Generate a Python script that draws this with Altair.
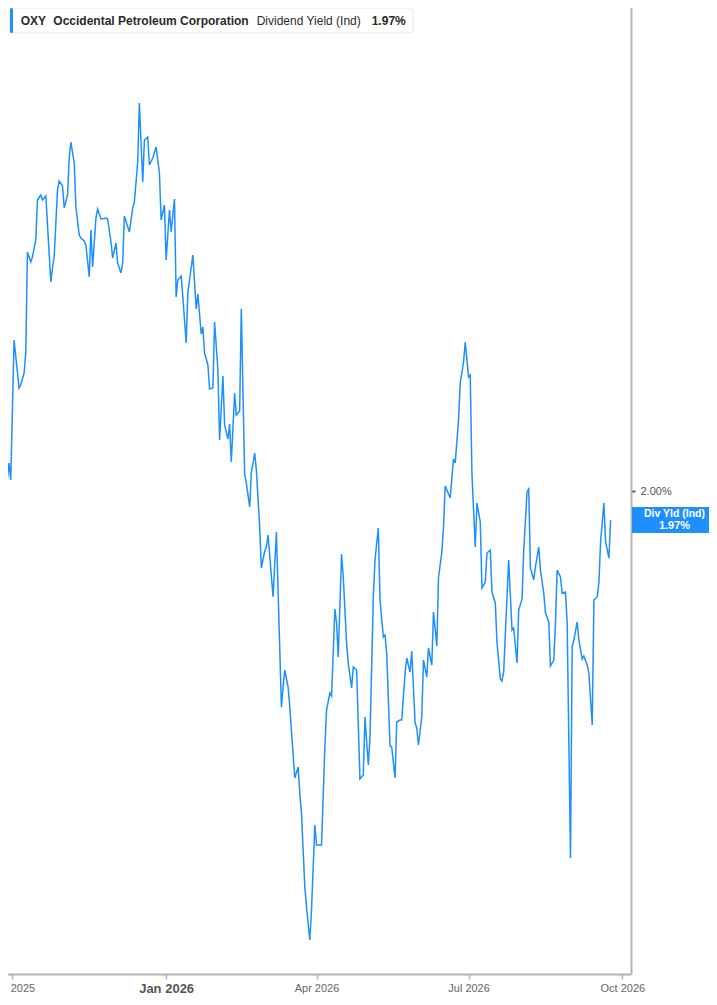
import altair as alt
import pandas as pd

BLUE = "#1e8fff"
FONT = "Liberation Sans"

# ---- data (dividend yield, %) ----
dates_q4_2025 = [
    "2025-09-24", "2025-09-27", "2025-09-29", "2025-09-30", "2025-10-02", "2025-10-05", "2025-10-06", "2025-10-08",
    "2025-10-09", "2025-10-10", "2025-10-12", "2025-10-13", "2025-10-15", "2025-10-16", "2025-10-18", "2025-10-19",
    "2025-10-21", "2025-10-24", "2025-10-25", "2025-10-26", "2025-10-28", "2025-10-29", "2025-10-31", "2025-11-01",
    "2025-11-03", "2025-11-04", "2025-11-05", "2025-11-07", "2025-11-08", "2025-11-10", "2025-11-11", "2025-11-13",
    "2025-11-14", "2025-11-16", "2025-11-17", "2025-11-18", "2025-11-20", "2025-11-21", "2025-11-23", "2025-11-26",
    "2025-11-27", "2025-11-29", "2025-11-30", "2025-12-02", "2025-12-03", "2025-12-05", "2025-12-06", "2025-12-07",
    "2025-12-10", "2025-12-12", "2025-12-13", "2025-12-15", "2025-12-16", "2025-12-18", "2025-12-19", "2025-12-21",
    "2025-12-22", "2025-12-24", "2025-12-26", "2025-12-28", "2025-12-29", "2025-12-31",
]
yield_q4_2025 = [
    2.041, 1.996, 2.028, 2.011, 2.151, 2.103, 2.106, 2.118, 2.138, 2.239,
    2.229, 2.234, 2.251, 2.291, 2.296, 2.291, 2.295, 2.209, 2.223, 2.234,
    2.301, 2.310, 2.305, 2.283, 2.296, 2.333, 2.349, 2.328, 2.284, 2.256,
    2.253, 2.250, 2.246, 2.214, 2.261, 2.224, 2.273, 2.282, 2.272, 2.273,
    2.272, 2.249, 2.233, 2.248, 2.228, 2.218, 2.228, 2.275, 2.259, 2.283,
    2.289, 2.329, 2.388, 2.309, 2.351, 2.354, 2.326, 2.333, 2.344, 2.318,
    2.271, 2.286,
]

dates_q1_2026 = [
    "2026-01-01", "2026-01-03", "2026-01-04", "2026-01-06", "2026-01-07", "2026-01-08", "2026-01-10", "2026-01-11",
    "2026-01-13", "2026-01-14", "2026-01-17", "2026-01-19", "2026-01-20", "2026-01-22", "2026-01-23", "2026-01-24",
    "2026-01-26", "2026-01-27", "2026-01-29", "2026-01-30", "2026-02-01", "2026-02-02", "2026-02-04", "2026-02-05",
    "2026-02-07", "2026-02-08", "2026-02-09", "2026-02-11", "2026-02-12", "2026-02-14", "2026-02-15", "2026-02-17",
    "2026-02-18", "2026-02-20", "2026-02-21", "2026-02-23", "2026-02-24", "2026-02-26", "2026-02-27", "2026-03-01",
    "2026-03-02", "2026-03-03", "2026-03-06", "2026-03-08", "2026-03-11", "2026-03-12", "2026-03-13", "2026-03-15",
    "2026-03-16", "2026-03-19", "2026-03-21", "2026-03-22", "2026-03-23", "2026-03-25", "2026-03-26", "2026-03-28",
    "2026-03-29", "2026-03-31",
]
yield_q1_2026 = [
    2.231, 2.281, 2.259, 2.292, 2.194, 2.211, 2.215, 2.194, 2.148, 2.198,
    2.236, 2.182, 2.197, 2.157, 2.164, 2.138, 2.126, 2.102, 2.103, 2.169,
    2.121, 2.051, 2.115, 2.066, 2.052, 2.067, 2.029, 2.098, 2.076, 2.080,
    2.182, 2.016, 2.008, 1.984, 2.018, 2.038, 2.021, 1.964, 1.923, 1.940,
    1.944, 1.956, 1.894, 1.959, 1.784, 1.804, 1.821, 1.804, 1.784, 1.713,
    1.724, 1.698, 1.678, 1.604, 1.584, 1.551, 1.581, 1.666,
]

dates_q2_2026 = [
    "2026-04-01", "2026-04-04", "2026-04-06", "2026-04-07", "2026-04-09", "2026-04-10", "2026-04-12", "2026-04-13",
    "2026-04-14", "2026-04-16", "2026-04-17", "2026-04-19", "2026-04-20", "2026-04-22", "2026-04-23", "2026-04-25",
    "2026-04-27", "2026-04-29", "2026-04-30", "2026-05-02", "2026-05-03", "2026-05-05", "2026-05-06", "2026-05-08",
    "2026-05-09", "2026-05-11", "2026-05-12", "2026-05-13", "2026-05-15", "2026-05-16", "2026-05-18", "2026-05-19",
    "2026-05-21", "2026-05-22", "2026-05-24", "2026-05-25", "2026-05-27", "2026-05-28", "2026-05-30", "2026-05-31",
    "2026-06-01", "2026-06-03", "2026-06-04", "2026-06-06", "2026-06-07", "2026-06-09", "2026-06-10", "2026-06-12",
    "2026-06-13", "2026-06-15", "2026-06-16", "2026-06-17", "2026-06-20", "2026-06-22", "2026-06-23", "2026-06-25",
    "2026-06-26", "2026-06-28", "2026-06-29",
]
yield_q2_2026 = [
    1.646, 1.646, 1.744, 1.781, 1.798, 1.795, 1.882, 1.868, 1.834, 1.937,
    1.914, 1.848, 1.828, 1.803, 1.824, 1.821, 1.712, 1.716, 1.774, 1.726,
    1.754, 1.894, 1.931, 1.963, 1.891, 1.854, 1.856, 1.838, 1.745, 1.744,
    1.713, 1.769, 1.771, 1.771, 1.818, 1.833, 1.819, 1.840, 1.768, 1.763,
    1.746, 1.774, 1.831, 1.814, 1.843, 1.826, 1.879, 1.845, 1.913, 1.939,
    1.964, 2.005, 1.993, 2.032, 2.028, 2.071, 2.108, 2.129, 2.149,
]

dates_q3_2026 = [
    "2026-07-01", "2026-07-02", "2026-07-03", "2026-07-05", "2026-07-06", "2026-07-08", "2026-07-09", "2026-07-11",
    "2026-07-12", "2026-07-14", "2026-07-15", "2026-07-17", "2026-07-18", "2026-07-20", "2026-07-21", "2026-07-22",
    "2026-07-24", "2026-07-25", "2026-07-27", "2026-07-28", "2026-07-30", "2026-07-31", "2026-08-02", "2026-08-03",
    "2026-08-05", "2026-08-06", "2026-08-07", "2026-08-09", "2026-08-10", "2026-08-12", "2026-08-13", "2026-08-15",
    "2026-08-16", "2026-08-18", "2026-08-19", "2026-08-21", "2026-08-22", "2026-08-23", "2026-08-25", "2026-08-26",
    "2026-08-28", "2026-08-29", "2026-08-31", "2026-09-01", "2026-09-02", "2026-09-04", "2026-09-05", "2026-09-07",
    "2026-09-08", "2026-09-10", "2026-09-11", "2026-09-13", "2026-09-14", "2026-09-16", "2026-09-17", "2026-09-18",
    "2026-09-20", "2026-09-21", "2026-09-23", "2026-09-24",
]
yield_q3_2026 = [
    2.114, 2.116, 2.018, 1.944, 1.988, 1.969, 1.903, 1.909, 1.938, 1.941,
    1.899, 1.888, 1.849, 1.812, 1.810, 1.819, 1.894, 1.931, 1.861, 1.863,
    1.828, 1.881, 1.892, 1.941, 1.999, 2.002, 1.923, 1.911, 1.924, 1.944,
    1.921, 1.898, 1.878, 1.869, 1.825, 1.831, 1.868, 1.921, 1.914, 1.898,
    1.899, 1.868, 1.633, 1.844, 1.851, 1.869, 1.851, 1.832, 1.835, 1.826,
    1.818, 1.766, 1.891, 1.894, 1.908, 1.949, 1.988, 1.949, 1.933, 1.971,
]

tick_dates = [(2025, 10, 1), (2026, 1, 1), (2026, 4, 1), (2026, 7, 1), (2026, 10, 1)]
ytick_values = [2.0]
ticker = "OXY"
company = "Occidental Petroleum Corporation"
metric = "Dividend Yield (Ind)"
metric_short = "Div Yld (Ind)"

dates = dates_q4_2025 + dates_q1_2026 + dates_q2_2026 + dates_q3_2026
values = yield_q4_2025 + yield_q1_2026 + yield_q2_2026 + yield_q3_2026
df = pd.DataFrame({"date": dates, "value": values})
last = df.iloc[[-1]].copy()
last["label"] = last["value"].map(lambda v: f"{v:.2f}%")
one = pd.DataFrame({"k": [0]})

x_scale = alt.Scale(
    type="utc",
    domain=[alt.DateTime(year=2025, month=9, date=23, hours=14, utc=True),
            alt.DateTime(year=2026, month=10, date=6, hours=5, utc=True)],
)
y_scale = alt.Scale(domain=[1.517, 2.491], nice=False, zero=False)

x_enc = alt.X(
    "date:T", scale=x_scale, title=None,
    axis=alt.Axis(
        values=[alt.DateTime(year=y, month=m, date=d, utc=True) for (y, m, d) in tick_dates],
        labelExpr="utcFormat(datum.value, '%b %Y')", grid=False,
        domainColor="#b4b4b4", domainWidth=2, tickColor="#b4b4b4", tickWidth=1.5, tickSize=5,
        labelFont=FONT, labelPadding=3, labelFlush=False, labelOverlap=False,
        labelFontSize=alt.expr("utcmonth(datum.value) === 0 ? 13 : 11"),
        labelFontWeight=alt.expr("utcmonth(datum.value) === 0 ? 'bold' : 'normal'"),
        labelColor=alt.expr("utcmonth(datum.value) === 0 ? '#555555' : '#666666'"),
    ),
)
y_enc = alt.Y(
    "value:Q", scale=y_scale, title=None,
    axis=alt.Axis(
        orient="right", values=ytick_values, grid=False,
        labelExpr="format(datum.value, '.2f') + '%'",
        domainColor="#b4b4b4", domainWidth=2, tickColor="#555555", tickWidth=2, tickSize=4,
        labelColor="#555555", labelFont=FONT, labelFontSize=11, labelPadding=5,
    ),
)

line = alt.Chart(df).mark_line(color=BLUE, strokeWidth=1.5).encode(x=x_enc, y=y_enc)

# right-hand value tag, tied to the last value through the y scale
tag_box = alt.Chart(last).mark_tick(
    orient="horizontal", color=BLUE, opacity=1, size=85, thickness=26
).encode(x=alt.value(674.5), y=alt.Y("value:Q", scale=y_scale))
tag_t1 = alt.Chart(last).mark_text(
    font=FONT, fontSize=10.5, fontWeight="bold", color="white", align="center", baseline="middle", dy=-6
).encode(x=alt.value(674.5), y=alt.Y("value:Q", scale=y_scale), text=alt.value(metric_short))
tag_t2 = alt.Chart(last).mark_text(
    font=FONT, fontSize=11, fontWeight="bold", color="white", align="center", baseline="middle", dy=6
).encode(x=alt.value(674.5), y=alt.Y("value:Q", scale=y_scale), text="label:N")

# header legend box
hdr_box = alt.Chart(one).mark_rect(
    fill="white", stroke="#e4e4e4", strokeWidth=1, cornerRadius=3
).encode(x=alt.value(10), x2=alt.value(413), y=alt.value(8), y2=alt.value(33))
hdr_bar = alt.Chart(one).mark_rect(fill=BLUE, cornerRadius=1.5).encode(
    x=alt.value(10), x2=alt.value(13), y=alt.value(8), y2=alt.value(33))


def hdr_text(txt, x, weight):
    return alt.Chart(one).mark_text(
        font=FONT, fontSize=12, fontWeight=weight, color="#2b2b2b", align="left", baseline="middle"
    ).encode(x=alt.value(x), y=alt.value(21), text=alt.value(txt))


hdr_val = alt.Chart(last).mark_text(
    font=FONT, fontSize=12, fontWeight="bold", color="#2b2b2b", align="left", baseline="middle"
).encode(x=alt.value(371.7), y=alt.value(21), text="label:N")

chart = alt.layer(
    line, tag_box, tag_t1, tag_t2, hdr_box, hdr_bar,
    hdr_text(ticker, 20.7, "bold"), hdr_text(company, 53.3, "bold"), hdr_text(metric, 256.7, "normal"),
    hdr_val,
).properties(
    width=631, height=974,
    padding={"left": -8, "top": -8, "right": 78, "bottom": 26},
    autosize=alt.AutoSizeParams(type="none"),
    background="white",
).configure_view(strokeWidth=0)

chart.save("out.html", embed_options={"renderer": "svg", "actions": False})
